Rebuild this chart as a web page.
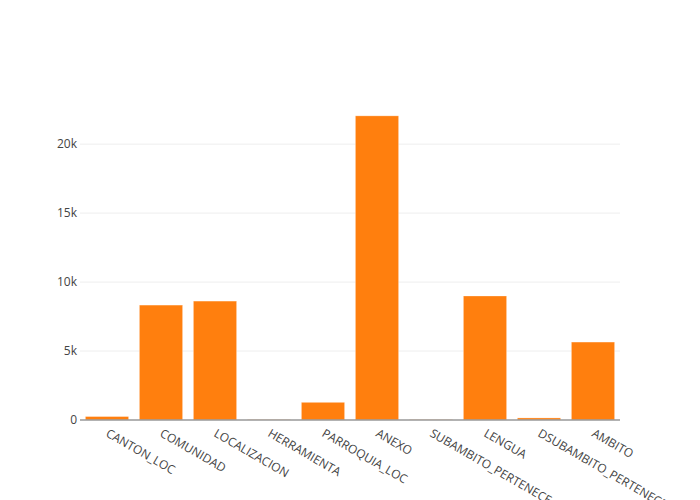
<!DOCTYPE html>
<html>
<head>
<meta charset="utf-8">
<script src="https://cdn.jsdelivr.net/npm/d3@7"></script>
<style>
  body { margin: 0; background: #fff; }
  text { font-family: "Open Sans", sans-serif; }
</style>
</head>
<body>
<div class="chart"></div>
<script>
const categories = [
  "CANTON_LOC", "COMUNIDAD", "LOCALIZACION", "HERRAMIENTA", "PARROQUIA_LOC",
  "ANEXO", "SUBAMBITO_PERTENECE", "LENGUA", "DSUBAMBITO_PERTENECE", "AMBITO"
];
const counts = [250, 8330, 8620, 20, 1280, 22050, 20, 8990, 150, 5650];
const yTicks = [0, 5000, 10000, 15000, 20000];
const yTickLabels = ["0", "5k", "10k", "15k", "20k"];

const width = 700;
const height = 500;
const margin = { top: 100, right: 80, bottom: 80, left: 80 };

const svg = d3
  .select(".chart")
  .append("svg")
  .attr("width", width)
  .attr("height", height);

const x = d3
  .scaleBand()
  .domain(categories)
  .range([margin.left, width - margin.right])
  .paddingInner(0.2)
  .paddingOuter(0.1);

const y = d3
  .scaleLinear()
  .domain([0, 23200])
  .range([height - margin.bottom, margin.top]);

// grid lines
svg
  .append("g")
  .selectAll("line")
  .data(yTicks.slice(1))
  .enter()
  .append("line")
  .attr("x1", margin.left)
  .attr("x2", width - margin.right)
  .attr("y1", d => y(d))
  .attr("y2", d => y(d))
  .attr("stroke", "#eee")
  .attr("stroke-width", 1);

// y labels
svg
  .append("g")
  .selectAll("text")
  .data(yTicks)
  .enter()
  .append("text")
  .attr("x", margin.left - 3)
  .attr("y", d => y(d))
  .attr("dy", "0.35em")
  .attr("text-anchor", "end")
  .attr("font-size", 12)
  .attr("fill", "#444")
  .text((d, i) => yTickLabels[i]);

// bars
svg
  .append("g")
  .selectAll("rect")
  .data(counts)
  .enter()
  .append("rect")
  .attr("x", (d, i) => x(categories[i]))
  .attr("y", d => y(d))
  .attr("width", x.bandwidth())
  .attr("height", d => y(0) - y(d))
  .attr("fill", "#ff7f0e")
  .attr("stroke", "rgba(255,255,255,0.35)")
  .attr("stroke-width", 0.8);

// baseline
svg
  .append("line")
  .attr("x1", margin.left)
  .attr("x2", width - margin.right)
  .attr("y1", y(0))
  .attr("y2", y(0))
  .attr("stroke", "#999")
  .attr("stroke-width", 1.5);

// x labels, rotated
svg
  .append("g")
  .selectAll("text")
  .data(categories)
  .enter()
  .append("text")
  .attr("transform", d => `translate(${x(d) + x.bandwidth() / 2}, ${y(0) + 12}) rotate(30)`)
  .attr("dy", "0.35em")
  .attr("text-anchor", "start")
  .attr("font-size", 12)
  .attr("fill", "#444")
  .text(d => d);
</script>
</body>
</html>
